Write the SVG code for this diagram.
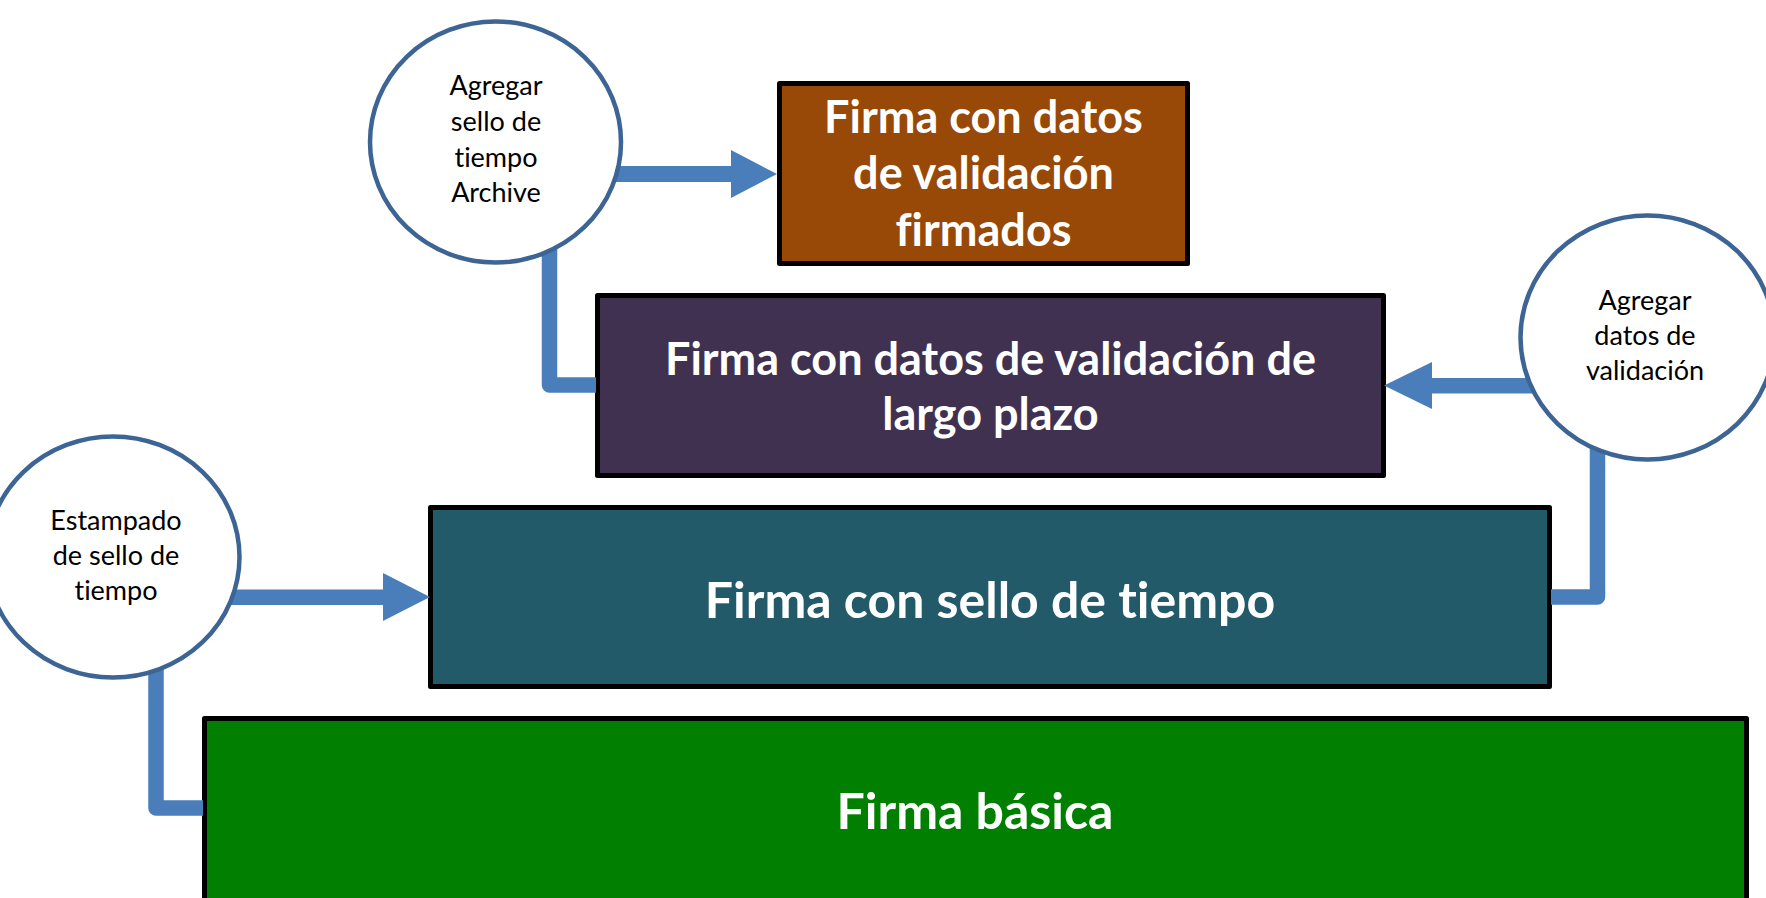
<svg xmlns="http://www.w3.org/2000/svg" width="1766" height="898" viewBox="0 0 1766 898">
  <style>
    text { font-variant-ligatures: none; font-feature-settings: "liga" 0, "dlig" 0; }
    .box { stroke: #000000; stroke-width: 5; stroke-linejoin: round; }
    .big { font-family: Lato, "Open Sans", "Liberation Sans", sans-serif; font-weight: 700; font-size: 45px; fill: #ffffff; text-anchor: middle; }
    .big2 { font-size: 50px; }
    .circ { fill: #ffffff; stroke: #3c6494; stroke-width: 4.5; }
    .small { font-family: Lato, "Open Sans", "Liberation Sans", sans-serif; font-weight: 400; font-size: 27px; fill: #000000; text-anchor: middle; }
    .elbow { fill: none; stroke: #4a7ebb; stroke-width: 15.5; stroke-linejoin: round; stroke-linecap: butt; }
    .arr { fill: #4a7ebb; }
  </style>
  <rect width="1766" height="898" fill="#ffffff"/>

  <g id="node-firma-basica">
    <rect class="box" x="204.5" y="718.5" width="1542" height="200" fill="#007f00"/>
    <text class="big big2" x="975" y="829">Firma básica</text>
  </g>
  <g id="node-firma-sello">
    <rect class="box" x="430.5" y="507.5" width="1119" height="179" fill="#225a69"/>
    <text class="big big2" x="990" y="618">Firma con sello de tiempo</text>
  </g>
  <g id="node-firma-largo-plazo">
    <rect class="box" x="597.5" y="295.5" width="786" height="180" fill="#403151"/>
    <text class="big" x="990.5" y="375">Firma con datos de validación de</text>
    <text class="big" x="990.5" y="430">largo plazo</text>
  </g>
  <g id="node-firma-archive">
    <rect class="box" x="779.5" y="83.5" width="408" height="180" fill="#984807"/>
    <text class="big" x="983.5" y="133">Firma con datos</text>
    <text class="big" x="983.5" y="189">de validación</text>
    <text class="big" x="983.5" y="246">firmados</text>
  </g>

  <g id="connectors">
    <path class="elbow" d="M549.5 230 V385 H596"/>
    <rect class="arr" x="600" y="166" width="132" height="16"/>
    <polygon class="arr" points="731,150 777,174 731,198"/>

    <path class="elbow" d="M1597.5 440 V597 H1551"/>
    <rect class="arr" x="1431" y="378" width="110" height="15.5"/>
    <polygon class="arr" points="1432,362 1384,385.5 1432,409"/>

    <path class="elbow" d="M156 660 V808 H203"/>
    <rect class="arr" x="220" y="589.5" width="164" height="15.5"/>
    <polygon class="arr" points="383,573 430,597 383,621"/>
  </g>

  <g id="node-sello-archive">
    <ellipse class="circ" cx="495.5" cy="142" rx="125.5" ry="120.5"/>
    <text class="small" x="496" y="95">Agregar</text>
    <text class="small" x="496" y="131">sello de</text>
    <text class="small" x="496" y="167">tiempo</text>
    <text class="small" x="496" y="202">Archive</text>
  </g>
  <g id="node-datos-validacion">
    <ellipse class="circ" cx="1647.5" cy="337.5" rx="127" ry="122"/>
    <text class="small" x="1645" y="310">Agregar</text>
    <text class="small" x="1645" y="345">datos de</text>
    <text class="small" x="1645" y="380">validación</text>
  </g>
  <g id="node-estampado">
    <ellipse class="circ" cx="113" cy="557" rx="126.5" ry="120.5"/>
    <text class="small" x="116" y="530">Estampado</text>
    <text class="small" x="116" y="565">de sello de</text>
    <text class="small" x="116" y="600">tiempo</text>
  </g>
</svg>
